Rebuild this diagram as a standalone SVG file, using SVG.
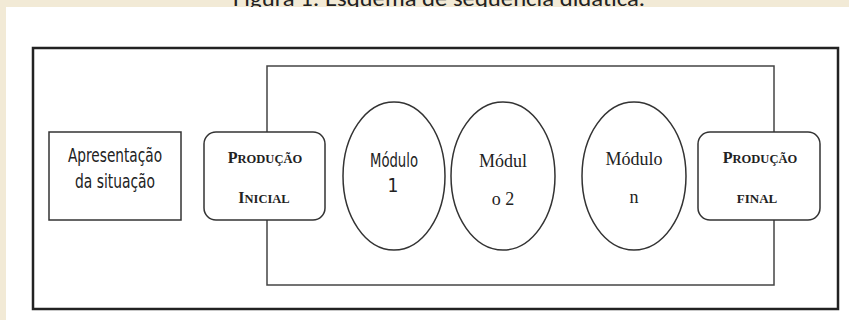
<svg xmlns="http://www.w3.org/2000/svg" width="849" height="320" viewBox="0 0 849 320">
<style>
.sans{font-family:"DejaVu Sans Condensed","DejaVu Sans",sans-serif;fill:#222;}
.serif{font-family:"Liberation Serif","Times New Roman",serif;fill:#222;}
.box{fill:#fff;stroke:#333;stroke-width:1.5;}
.ell{fill:#fff;stroke:#333;stroke-width:1.5;}
</style>
<rect x="0" y="0" width="849" height="320" fill="#f2ead6"/>
<text x="439" y="6" text-anchor="middle" font-family="Carlito,'Liberation Sans',sans-serif" font-size="23" fill="#222" textLength="412" lengthAdjust="spacingAndGlyphs">Figura 1: Esquema de sequência didática.</text>
<rect x="6" y="7" width="843" height="313" fill="#fff"/>
<g id="frame">
<rect x="33" y="48" width="805" height="261" fill="none" stroke="#222" stroke-width="2.5"/>
<rect x="267" y="66" width="507" height="219" fill="none" stroke="#444" stroke-width="1.5"/>
</g>
<g id="apresentacao">
<rect class="box" x="49" y="132" width="132" height="88"/>
<text class="sans" x="115" y="162" text-anchor="middle" font-size="19" textLength="94" lengthAdjust="spacingAndGlyphs">Apresentação</text>
<text class="sans" x="115" y="188" text-anchor="middle" font-size="19" textLength="80" lengthAdjust="spacingAndGlyphs">da situação</text>
</g>
<g id="producao-inicial">
<rect class="box" x="204" y="132" width="121" height="88" rx="12"/>
<text class="serif" x="265" y="163" text-anchor="middle" font-size="16" font-weight="bold">P<tspan font-size="12.5">RODUÇÃO</tspan></text>
<text class="serif" x="264" y="203" text-anchor="middle" font-size="16" font-weight="bold">I<tspan font-size="12.5">NICIAL</tspan></text>
</g>
<g id="modulo-1">
<ellipse class="ell" cx="394" cy="176" rx="51" ry="74"/>
<text class="sans" x="394" y="167" text-anchor="middle" font-size="19" textLength="48" lengthAdjust="spacingAndGlyphs">Módulo</text>
<text class="sans" x="393" y="192" text-anchor="middle" font-size="19">1</text>
</g>
<g id="modulo-2">
<ellipse class="ell" cx="503" cy="176" rx="52" ry="74"/>
<text class="serif" x="503" y="167" text-anchor="middle" font-size="18">Módul</text>
<text class="serif" x="503" y="205" text-anchor="middle" font-size="18">o 2</text>
</g>
<g id="modulo-n">
<ellipse class="ell" cx="634" cy="176" rx="52" ry="74"/>
<text class="serif" x="634" y="165" text-anchor="middle" font-size="18">Módulo</text>
<text class="serif" x="634" y="203" text-anchor="middle" font-size="18">n</text>
</g>
<g id="producao-final">
<rect class="box" x="698" y="132" width="122" height="88" rx="12"/>
<text class="serif" x="760" y="163" text-anchor="middle" font-size="16" font-weight="bold">P<tspan font-size="12.5">RODUÇÃO</tspan></text>
<text class="serif" x="757" y="203" text-anchor="middle" font-size="13" font-weight="bold">FINAL</text>
</g>
<g id="connectors"></g>
</svg>
